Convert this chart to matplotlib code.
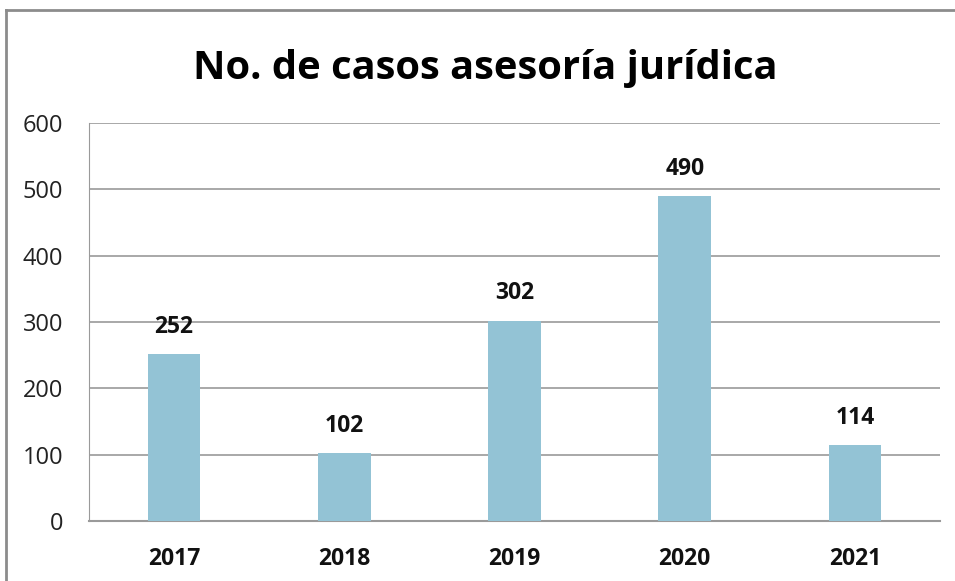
import matplotlib
matplotlib.use("Agg")
import matplotlib.pyplot as plt
from matplotlib.lines import Line2D

years = ["2017", "2018", "2019", "2020", "2021"]
cases = [252, 102, 302, 490, 114]
y_ticks = [0, 100, 200, 300, 400, 500, 600]
title = "No. de casos asesoría jurídica"

plt.rcParams['font.family'] = ['Open Sans', 'DejaVu Sans']

fig = plt.figure(figsize=(9.55, 5.81), dpi=100)
ax = fig.add_axes([89/955, 1-521/581, (940-89)/955, (521-123)/581])

x = range(len(years))
bars = ax.bar(x, cases, width=0.31, color="#93C3D5", zorder=3)
ax.set_xlim(-0.5, len(years)-0.5)
ax.set_ylim(0, 600)
ax.set_yticks(y_ticks)
ax.set_yticklabels([str(t) for t in y_ticks], fontsize=17, color="#222222")
ax.set_xticks(list(x))
ax.set_xticklabels(years, fontsize=16.5, fontweight="bold", color="#111111")
ax.tick_params(axis='y', length=0, pad=18.5)
ax.tick_params(axis='x', length=0, pad=19)
ax.grid(axis='y', color="#9a9a9a", linewidth=1.2, zorder=0)
for s in ["top", "right"]:
    ax.spines[s].set_visible(False)
ax.spines["left"].set_color("#9a9a9a")
ax.spines["bottom"].set_color("#9a9a9a")
ax.spines["bottom"].set_linewidth(1.5)

for xi, v in zip(x, cases):
    ax.annotate(str(v), (xi, v), xytext=(0, 11), textcoords="offset points",
                ha="center", va="bottom", fontsize=16.5, fontweight="bold", color="#111111")

fig.text(485/955, 1-68/581, title, ha="center", va="center", fontsize=28.7, fontweight="bold", color="black")

# outer frame (top and left)
fig.add_artist(Line2D([6/955, 1.0], [1-10/581, 1-10/581], transform=fig.transFigure, color="#8c8c8c", linewidth=2))
fig.add_artist(Line2D([6/955, 6/955], [0, 1-10/581], transform=fig.transFigure, color="#8c8c8c", linewidth=2))

fig.savefig("out.png", dpi=100)
